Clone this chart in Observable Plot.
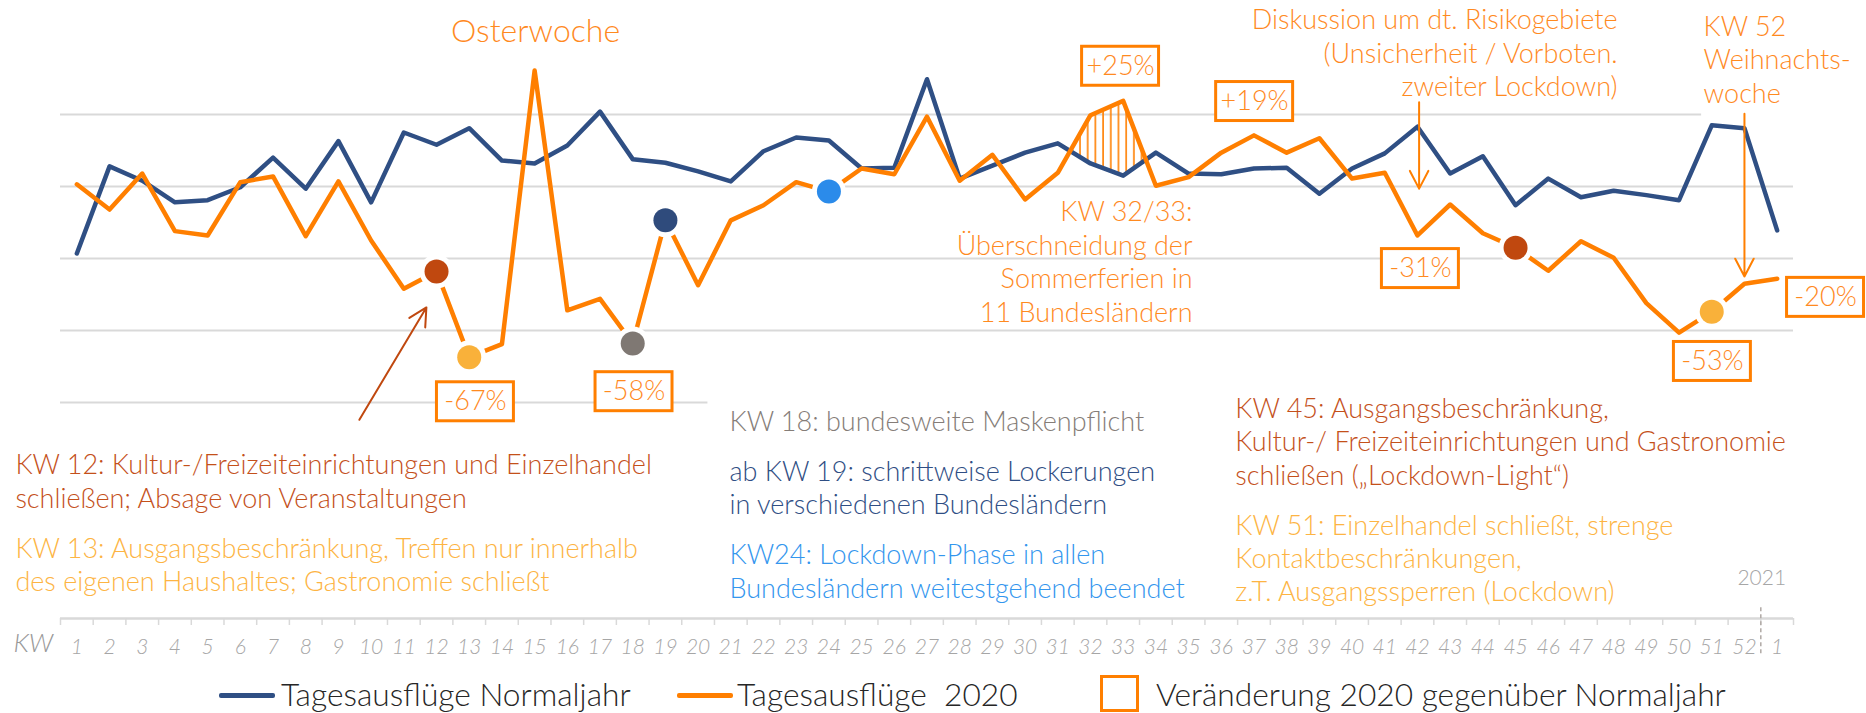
<!DOCTYPE html>
<html>
<head>
<meta charset="utf-8">
<script src="https://cdn.jsdelivr.net/npm/d3@7"></script>
<script src="https://cdn.jsdelivr.net/npm/@observablehq/plot@0.6"></script>
<style>
  html, body { margin: 0; padding: 0; background: #fff; }
  body { width: 1866px; height: 713px; overflow: hidden; font-family: Lato, "Open Sans", sans-serif; }
  #legend { position: relative; width: 1866px; height: 48px; font-weight: 300; color: #262626; font-size: 31.7px; }
  #legend .sw { position: absolute; top: 27.5px; height: 5px; border-radius: 2px; }
  #legend .bx { position: absolute; top: 10px; width: 33px; height: 31px; border: 3px solid #FF7F00; }
  #legend .lt { position: absolute; top: 13.2px; line-height: 33px; white-space: pre; }
</style>
</head>
<body>
<div id="chart"></div>
<div id="legend"></div>
<script>
// ---------------- data ----------------
const weeks = d3.range(1, 54); // KW 1 2020 ... KW 52 2020, KW 1 2021
const kwLabels = ["1","2","3","4","5","6","7","8","9","10","11","12","13","14","15","16","17","18","19","20",
  "21","22","23","24","25","26","27","28","29","30","31","32","33","34","35","36","37","38","39","40",
  "41","42","43","44","45","46","47","48","49","50","51","52","1"];
// Tagesausflüge Normaljahr (index, gridlines every 10)
const normaljahr = [50.7, 62.8, 60.8, 57.8, 58.1, 59.9, 64.0, 59.7, 66.3, 57.8,
  67.5, 65.8, 68.1, 63.6, 63.2, 65.7, 70.4, 63.8, 63.3, 62.1,
  60.7, 64.9, 66.8, 66.4, 62.5, 62.6, 74.9, 61.1, 62.9, 64.7,
  66.0, 63.2, 61.5, 64.7, 61.8, 61.7, 62.5, 62.6, 59.0, 62.5,
  64.6, 68.3, 61.8, 64.2, 57.4, 61.1, 58.5, 59.4, 58.8, 58.1,
  68.5, 68.1, 53.9];
// Tagesausflüge 2020
const jahr2020 = [60.3, 56.8, 61.8, 53.8, 53.2, 60.6, 61.4, 53.1, 60.7, 52.5,
  45.8, 48.2, 36.3, 38.1, 76.1, 42.8, 44.4, 38.2, 55.3, 46.3,
  55.3, 57.4, 60.6, 59.3, 62.5, 61.7, 69.7, 60.8, 64.4, 58.2,
  61.9, 69.9, 71.9, 60.1, 61.3, 64.7, 67.1, 64.7, 66.7, 61.1,
  61.9, 53.2, 57.5, 53.5, 51.5, 48.3, 52.4, 50.1, 43.8, 39.7,
  42.6, 46.5, 47.2];
const gridValues = [40, 50, 60, 70];
// event markers on the 2020 line
const markerWeeks = [12, 13, 18, 19, 24, 45, 51];
const markerEvent = ["KW12", "KW13", "KW18", "KW19", "KW24", "KW45", "KW51"];
// Veränderung 2020 gegenüber Normaljahr
const changeLabels = ["-67%", "-58%", "+25%", "+19%", "-31%", "-53%", "-20%"];
const changeKW     = [13.19, 18.04, 32.92, 37.02, 42.09, 51.02, 54.48];
const changeV      = [30.1, 31.5, 76.7, 71.8, 48.6, 35.7, 44.6];
// hatched overlap (KW 32/33)
const hatchFrom = 31, hatchTo = 34;

// ---------------- styles ----------------
const BLUE = "#2F4F84", ORANGE = "#FF7F00", TXT_OR = "#FF8A1F";
const eventColor = {KW12: "#C0480F", KW13: "#F9B13A", KW18: "#7F7873", KW19: "#2F4B7C",
  KW24: "#2B8BEA", KW45: "#C0480F", KW51: "#F9B13A"};
const GRID = "#D9D9D9";

// annotations: text, anchor (KW, value), alignment, colour
const notes = [
  {t: "KW 32/33:\nÜberschneidung der\nSommerferien in\n11 Bundesländern", kw: 35.12, v: 49.7, a: "end", c: TXT_OR},
  {t: "Diskussion um dt. Risikogebiete\n(Unsicherheit / Vorboten.\nzweiter Lockdown)", kw: 48.12, v: 78.7, a: "end", c: TXT_OR},
  {t: "KW 52\nWeihnachts-\nwoche", kw: 50.75, v: 77.8, a: "start", c: TXT_OR},
  {t: "KW 12: Kultur-/Freizeiteinrichtungen und Einzelhandel\nschließen; Absage von Veranstaltungen", kw: -0.88, v: 19.2, a: "start", c: "#C4501A"},
  {t: "KW 13: Ausgangsbeschränkung, Treffen nur innerhalb\ndes eigenen Haushaltes; Gastronomie schließt", kw: -0.88, v: 7.6, a: "start", c: "#FDB443"},
  {t: "KW 18: bundesweite Maskenpflicht", kw: 20.96, v: 27.5, a: "start", c: "#857D78"},
  {t: "ab KW 19: schrittweise Lockerungen\nin verschiedenen Bundesländern", kw: 20.96, v: 18.3, a: "start", c: "#2F4E84"},
  {t: "KW24: Lockdown-Phase in allen\nBundesländern weitestgehend beendet", kw: 20.96, v: 6.7, a: "start", c: "#3396EE"},
  {t: "KW 45: Ausgangsbeschränkung,\nKultur-/ Freizeiteinrichtungen und Gastronomie\nschließen („Lockdown-Light“)", kw: 36.43, v: 24.7, a: "start", c: "#C4501A"},
  {t: "KW 51: Einzelhandel schließt, strenge\nKontaktbeschränkungen,\nz.T. Ausgangssperren (Lockdown)", kw: 36.43, v: 8.5, a: "start", c: "#FDB443"}
];
const arrows = [
  {x1: 42.05, y1: 71.7, x2: 42.05, y2: 59.7, c: ORANGE},
  {x1: 52.0, y1: 70.1, x2: 52.0, y2: 47.5, c: ORANGE},
  {x1: 9.64, y1: 27.6, x2: 11.69, y2: 43.2, c: "#C0480F"}
];

// hatch polygon between the two lines where 2020 > Normaljahr
const hatch = [];
for (let w = hatchFrom; w < hatchTo; w++) {
  const b0 = normaljahr[w - 1], b1 = normaljahr[w], o0 = jahr2020[w - 1], o1 = jahr2020[w];
  const d0 = o0 - b0, d1 = o1 - b1;
  if (d0 >= 0) hatch.push({x: w, lo: b0, hi: o0});
  if ((d0 < 0) !== (d1 < 0)) {
    const t = d0 / (d0 - d1), b = b0 + t * (b1 - b0);
    hatch.push({x: w + t, lo: b, hi: b});
  }
}

const BW = 1.177, BH = 2.708; // half box size in scale units
const boxes = changeLabels.map((l, i) => ({l, x: changeKW[i], y: changeV[i]}));

const noteMark = (anchor) => Plot.text(notes, {
  x: "kw", y: "v", text: "t", fill: "c", textAnchor: anchor, fontWeight: 300,
  filter: d => d.a === anchor, fontSize: 27, lineHeight: 1.24,
  lineAnchor: "middle", ariaLabel: "note"});

const chart = Plot.plot({
  width: 1866, height: 665,
  marginLeft: 60, marginRight: 73, marginTop: 0, marginBottom: 47,
  x: {domain: [0.5, 53.5]},
  y: {domain: [0, 618 / 7.2], axis: null},
  color: {type: "identity"},
  style: {fontFamily: "Lato, 'Open Sans', sans-serif", fontWeight: 300, background: "#fff", overflow: "visible"},
  marks: [
    Plot.ruleY(gridValues, {x1: 0.5, x2: d => d === 70 ? 50.69 : 53.5, stroke: GRID, strokeWidth: 2}),
    Plot.ruleY([30], {x1: 0.5, x2: 20.3, stroke: GRID, strokeWidth: 2}),
    Plot.ruleY([0], {x1: 0.5, x2: 53.5, stroke: GRID, strokeWidth: 2.5}),
    Plot.ruleX(d3.range(0.5, 54, 1), {x: d => d, y1: 0, y2: -0.97, stroke: GRID, strokeWidth: 1.5}),
    Plot.ruleX([52.5], {y1: 1.5, y2: -5.1, stroke: "#B0A9A5", strokeWidth: 1.5, strokeDasharray: "4,3"}),
    Plot.axisX({ticks: weeks, tickFormat: d => kwLabels[d - 1], tickSize: 0, tickPadding: 21,
      fontSize: 21, fontStyle: "italic", fill: "#A6A6A6", label: null}),
    Plot.text(["KW"], {x: -0.33, y: -3.47, fontSize: 26, fontStyle: "italic", fill: "#999", textAnchor: "middle", lineAnchor: "middle"}),
    Plot.text(["2021"], {x: 52.53, y: 5.56, fontSize: 21, fill: "#A6A6A6", textAnchor: "middle", lineAnchor: "middle"}),
    noteMark("start"),
    noteMark("end"),
    Plot.areaY(hatch, {x: "x", y1: "lo", y2: "hi", fill: "url(#hatch)", curve: "linear"}),
    Plot.line(weeks, {x: d => d, y: d => normaljahr[d - 1], stroke: BLUE, strokeWidth: 4.5, strokeLinejoin: "round", strokeLinecap: "round"}),
    Plot.line(weeks, {x: d => d, y: d => jahr2020[d - 1], stroke: ORANGE, strokeWidth: 4.5, strokeLinejoin: "round", strokeLinecap: "round"}),
    Plot.dot(markerWeeks, {x: d => d, y: d => jahr2020[d - 1], r: 12, fill: (d, i) => eventColor[markerEvent[i]],
      stroke: "#fff", strokeWidth: 10, paintOrder: "stroke"}),
    Plot.rect(boxes, {x1: d => d.x - BW, x2: d => d.x + BW, y1: d => d.y - BH, y2: d => d.y + BH,
      fill: "#fff", stroke: ORANGE, strokeWidth: 3}),
    Plot.text(boxes, {x: "x", y: "y", text: "l", fill: TXT_OR, fontSize: 27, lineAnchor: "middle"}),
    Plot.arrow(arrows, {x1: "x1", y1: "y1", x2: "x2", y2: "y2", stroke: "c", strokeWidth: 2, headAngle: 55, headLength: 15}),
    Plot.text(["Osterwoche"], {x: 15.03, y: 81.5, fontSize: 32, fill: TXT_OR, lineAnchor: "middle"})
  ]
});
document.getElementById("chart").appendChild(chart);

// hatch pattern
const svg = d3.select(chart);
const defs = svg.insert("defs", ":first-child");
const pat = defs.append("pattern").attr("id", "hatch").attr("patternUnits", "userSpaceOnUse")
  .attr("width", 7.7).attr("height", 20);
pat.append("line").attr("x1", 2).attr("x2", 2).attr("y1", 0).attr("y2", 20)
  .attr("stroke", ORANGE).attr("stroke-width", 1.6);

// white text-box backgrounds behind notes
svg.selectAll('g[aria-label="note"] text').each(function () {
  const b = this.getBBox();
  const r = document.createElementNS("http://www.w3.org/2000/svg", "rect");
  r.setAttribute("x", b.x - 4); r.setAttribute("y", b.y - 3);
  r.setAttribute("width", b.width + 8); r.setAttribute("height", b.height + 6);
  r.setAttribute("fill", "#fff"); r.setAttribute("stroke", "none");
  const tr = this.getAttribute("transform");
  if (tr) r.setAttribute("transform", tr);
  this.parentNode.insertBefore(r, this);
});

// legend
const legendItems = [
  {kind: "line", color: BLUE, left: 219, width: 56},
  {kind: "text", label: "Tagesausflüge Normaljahr", left: 281},
  {kind: "line", color: ORANGE, left: 677, width: 56},
  {kind: "text", label: "Tagesausflüge  2020", left: 737},
  {kind: "box", left: 1100},
  {kind: "text", label: "Veränderung 2020 gegenüber Normaljahr", left: 1156}
];
const lg = d3.select("#legend");
for (const it of legendItems) {
  if (it.kind === "line") lg.append("span").attr("class", "sw").style("left", it.left + "px").style("width", it.width + "px").style("background", it.color);
  else if (it.kind === "box") lg.append("span").attr("class", "bx").style("left", it.left + "px");
  else lg.append("span").attr("class", "lt").style("left", it.left + "px").text(it.label);
}
</script>
</body>
</html>
